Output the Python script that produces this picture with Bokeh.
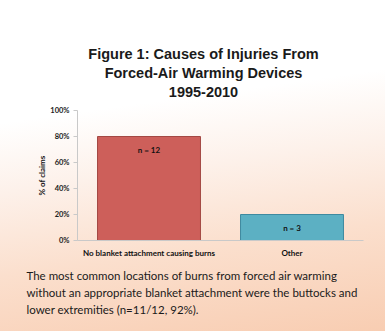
from bokeh.plotting import figure
from bokeh.layouts import column
from bokeh.models import ColumnDataSource, LabelSet, Label, NumeralTickFormatter, FixedTicker, FactorRange
from bokeh.core.properties import value
from bokeh.embed import file_html
from bokeh.resources import INLINE

categories = ["No blanket attachment causing burns", "Other"]
shares = [0.80, 0.20]
counts = [12, 3]
bar_colors = ["#cd5f5a", "#5cb0c3"]
bar_lines = ["#a34843", "#3f8aa0"]
y_ticks = [0, 0.2, 0.4, 0.6, 0.8, 1.0]
title_lines = ["Figure 1: Causes of Injuries From", "Forced-Air Warming Devices", "1995-2010"]
para_lines = [
    "The most common locations of burns from forced air warming",
    "without an appropriate blanket attachment were the buttocks and",
    "lower extremities (n=11/12, 92%).",
]

W = 385
TOP_H, CHART_H, BOT_H = 100, 165, 66


def text_panel(h):
    f = figure(width=W, height=h, x_range=(0, W), y_range=(0, h), output_backend="svg",
               toolbar_location=None, x_axis_type=None, y_axis_type=None, min_border=0)
    f.frame_align = False
    f.background_fill_alpha = 0
    f.border_fill_alpha = 0
    f.outline_line_color = None
    f.grid.visible = False
    return f


# --- title panel
top = text_panel(TOP_H)
for i, t in enumerate(title_lines):
    top.add_layout(Label(x=203, y=47 - 19 * i, x_units="screen", y_units="screen", text=t,
                         text_align="center", text_baseline="middle",
                         text_font="Liberation Sans", text_font_style="bold",
                         text_font_size="14.5px", text_color="#1a1a1a"))

# --- chart
src = ColumnDataSource(dict(
    cat=categories, share=shares,
    lab=["n = %d" % c for c in counts],
    fill=bar_colors, line=bar_lines,
))
p = figure(width=W, height=CHART_H, x_range=FactorRange(*categories, range_padding=0.0),
           y_range=(0, 1.0), output_backend="svg", toolbar_location=None,
           min_border_left=77, min_border_right=22, min_border_top=10, min_border_bottom=25)
p.frame_align = False
p.background_fill_alpha = 0
p.border_fill_alpha = 0
p.outline_line_color = None
p.grid.visible = False

p.vbar(x="cat", top="share", width=0.72, source=src, fill_color="fill", line_color="line", line_width=1)
p.add_layout(LabelSet(x="cat", y="share", text="lab", source=src, y_offset=-13,
                      text_align="center", text_baseline="middle",
                      text_font=value("Lato"), text_font_style="bold", text_font_size="8px",
                      text_color="#111111"))

ya = p.yaxis[0]
ya.ticker = FixedTicker(ticks=y_ticks)
ya.formatter = NumeralTickFormatter(format="0%")
ya.axis_line_color = "#c9c9c9"
ya.major_tick_line_color = "#c9c9c9"
ya.major_tick_out = 4
ya.major_tick_in = 0
ya.minor_tick_line_color = None
ya.major_label_text_font = "Lato"
ya.major_label_text_font_style = "bold"
ya.major_label_text_font_size = "7.5px"
ya.major_label_text_color = "#222222"
ya.major_label_standoff = 4
ya.axis_label = "% of claims"
ya.axis_label_text_font = "Lato"
ya.axis_label_text_font_style = "bold"
ya.axis_label_text_font_size = "8px"
ya.axis_label_text_color = "#111111"
ya.axis_label_standoff = 0

xa = p.xaxis[0]
xa.axis_line_color = "#c9c9c9"
xa.major_tick_line_color = None
xa.minor_tick_line_color = None
xa.major_tick_out = 0
xa.major_label_text_font = "Lato"
xa.major_label_text_font_style = "bold"
xa.major_label_text_font_size = "8px"
xa.major_label_text_color = "#111111"
xa.major_label_standoff = 7

# --- caption panel
bot = text_panel(BOT_H)
for i, t in enumerate(para_lines):
    bot.add_layout(Label(x=26, y=56 - 17 * i, x_units="screen", y_units="screen", text=t,
                         text_align="left", text_baseline="middle",
                         text_font="Lato", text_font_size="11.5px", text_color="#1a1a1a"))

layout = column(top, p, bot, spacing=0)
layout.styles = {"background": "linear-gradient(172deg, #ffffff 0%, #ffffff 32%, #fdf1ea 50%, #fbdfcd 72%, #f8cdb2 100%)"}

open("out.html", "w").write(file_html(layout, INLINE))
